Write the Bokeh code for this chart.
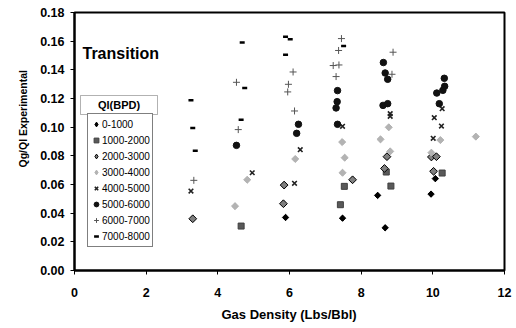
import math
from bokeh.plotting import figure
from bokeh.models import (Range1d, FixedTicker, PrintfTickFormatter, Legend, LegendItem,
                          Label, BoxAnnotation, Title)
from bokeh.embed import file_html
from bokeh.resources import INLINE

FONT = "Liberation Sans"

# ---- data ----
series_labels = ["0-1000", "1000-2000", "2000-3000", "3000-4000",
                 "4000-5000", "5000-6000", "6000-7000", "7000-8000"]

x_0_1000 = [5.89, 7.48, 8.46, 8.67, 9.95, 10.07]
y_0_1000 = [0.0370, 0.0365, 0.0524, 0.0298, 0.0533, 0.0641]

x_1000_2000 = [4.65, 7.42, 7.53, 8.70, 8.83, 10.26]
y_1000_2000 = [0.0310, 0.0459, 0.0587, 0.0687, 0.0589, 0.0680]

x_2000_3000 = [3.30, 5.83, 5.85, 7.76, 8.65, 8.72, 9.96, 10.02, 10.10]
y_2000_3000 = [0.0361, 0.0466, 0.0596, 0.0633, 0.0712, 0.0794, 0.0792, 0.0692, 0.0794]

x_3000_4000 = [4.48, 4.82, 6.16, 7.47, 7.48, 7.54, 8.54, 8.77, 8.81, 9.96, 10.21, 11.20]
y_3000_4000 = [0.0449, 0.0633, 0.0778, 0.0896, 0.0682, 0.0787, 0.0915, 0.0999, 0.0831,
               0.0822, 0.0910, 0.0934]

x_4000_5000 = [3.25, 4.96, 6.14, 6.30, 7.48, 8.81, 8.81, 10.01, 10.04, 10.24, 10.26]
y_4000_5000 = [0.0554, 0.0682, 0.0608, 0.0843, 0.1006, 0.1094, 0.1076, 0.0922, 0.1066,
               0.1008, 0.1129]

x_5000_6000 = [4.52, 6.20, 6.25, 7.30, 7.33, 7.34, 7.34, 8.61, 8.62, 8.67, 8.74, 8.74,
               10.11, 10.18, 10.28, 10.32, 10.33]
y_5000_6000 = [0.0873, 0.0957, 0.1020, 0.1134, 0.1178, 0.1020, 0.1255, 0.1152, 0.1451,
               0.1378, 0.1334, 0.1164, 0.1238, 0.1164, 0.1257, 0.1341, 0.1285]

x_6000_7000 = [3.33, 4.52, 4.57, 5.95, 5.97, 6.10, 6.14, 7.22, 7.30, 7.37, 7.38, 7.45,
               8.86, 8.89]
y_6000_7000 = [0.0629, 0.1313, 0.0983, 0.1246, 0.1299, 0.1385, 0.1113, 0.1430, 0.1353,
               0.1535, 0.1434, 0.1618, 0.1369, 0.1523]

x_7000_8000 = [3.25, 3.30, 3.37, 4.65, 4.68, 4.75, 5.89, 5.89, 6.02, 7.51]
y_7000_8000 = [0.1187, 0.0994, 0.0836, 0.1052, 0.1590, 0.1273, 0.1630, 0.1506, 0.1613, 0.1567]

x_ticks = [0, 2, 4, 6, 8, 10, 12]
y_ticks = [0.00, 0.02, 0.04, 0.06, 0.08, 0.10, 0.12, 0.14, 0.16, 0.18]

# ---- figure ----
p = figure(width=516, height=328, output_backend="svg", toolbar_location=None,
           x_range=Range1d(0, 12), y_range=Range1d(0, 0.18),
           min_border_left=74, min_border_right=12, min_border_top=12, min_border_bottom=58)
p.background_fill_color = "white"
p.border_fill_color = "white"
p.outline_line_color = "black"
p.outline_line_width = 2
p.xgrid.visible = False
p.ygrid.visible = False

for ax in (p.xaxis[0], p.yaxis[0]):
    ax.axis_line_color = "black"
    ax.axis_line_width = 2
    ax.major_tick_line_color = "black"
    ax.major_tick_line_width = 1
    ax.major_tick_out = 4
    ax.major_tick_in = 0
    ax.minor_tick_line_color = None
    ax.major_label_text_font = FONT
    ax.major_label_text_font_style = "bold"
    ax.major_label_text_font_size = "12.5px"
    ax.major_label_text_color = "black"

p.xaxis[0].ticker = FixedTicker(ticks=x_ticks)
p.yaxis[0].ticker = FixedTicker(ticks=y_ticks)
p.yaxis[0].formatter = PrintfTickFormatter(format="%.2f")
p.xaxis[0].major_label_standoff = 13
p.yaxis[0].major_label_standoff = 6

rot = math.pi / 4
s_0 = dict(fill_color="black", line_color="black")
s_2 = dict(fill_color="#808080", line_color="black", line_width=1)
s_3 = dict(fill_color="#b3b3b3", line_color="#b3b3b3")

# diamond-shaped swatches for the legend (legend glyphs ignore marker angle);
# drawn first and smaller, so the rotated squares on top hide them in the plot
k0 = p.scatter(x_0_1000, y_0_1000, marker="diamond", size=5.5, **s_0)
k2 = p.scatter(x_2000_3000, y_2000_3000, marker="diamond", size=6.5, **s_2)
k3 = p.scatter(x_3000_4000, y_3000_4000, marker="diamond", size=6, **s_3)

r0 = p.scatter(x_0_1000, y_0_1000, marker="square", angle=rot, size=4.5, **s_0)
r1 = p.scatter(x_1000_2000, y_1000_2000, marker="square", size=6,
               fill_color="#595959", line_color="#404040")
r2 = p.scatter(x_2000_3000, y_2000_3000, marker="square", angle=rot, size=5.5, **s_2)
r3 = p.scatter(x_3000_4000, y_3000_4000, marker="square", angle=rot, size=5, **s_3)
r4 = p.scatter(x_4000_5000, y_4000_5000, marker="x", size=6.5,
               line_color="#222222", line_width=1.6)
r5 = p.scatter(x_5000_6000, y_5000_6000, marker="circle", size=6.5,
               fill_color="#111111", line_color="#111111")
r6 = p.scatter(x_6000_7000, y_6000_7000, marker="cross", size=7,
               line_color="#555555", line_width=1)
r7 = p.scatter(x_7000_8000, y_7000_8000, marker="dash", size=5,
               line_color="black", line_width=2.5)

legend_renderers = [k0, r1, k2, k3, r4, r5, r6, r7]
legend = Legend(items=[LegendItem(label=lab, renderers=[r])
                       for lab, r in zip(series_labels, legend_renderers)],
                location=(13, 23), orientation="vertical",
                label_text_font=FONT, label_text_font_size="10px",
                label_text_color="black",
                glyph_width=12, glyph_height=16, label_height=16, label_standoff=0,
                spacing=0, padding=2, margin=0,
                border_line_color="black", border_line_width=1,
                background_fill_color="white", background_fill_alpha=1.0)
p.add_layout(legend)

# legend title in its own box
title_box = BoxAnnotation(left=6, right=83, top=175, bottom=156,
                          left_units="screen", right_units="screen",
                          top_units="screen", bottom_units="screen",
                          fill_color="white", fill_alpha=1.0,
                          line_color="black", line_width=1)
p.add_layout(title_box)
p.add_layout(Label(x=44.5, y=165.5, x_units="screen", y_units="screen", text="Ql(BPD)",
                   text_font=FONT, text_font_style="bold", text_font_size="11px",
                   text_align="center", text_baseline="middle", text_color="black"))

p.add_layout(Label(x=8, y=217.5, x_units="screen", y_units="screen", text="Transition",
                   text_font=FONT, text_font_style="bold", text_font_size="16px",
                   text_align="left", text_baseline="middle", text_color="black"))

# axis titles as side-panel titles (offset along the axis)
p.add_layout(Title(text="Qg/Ql Experimental", align="left", offset=103, standoff=17,
                   text_font=FONT, text_font_style="bold", text_font_size="10.5px",
                   text_color="black"), "left")
p.add_layout(Title(text="Gas Density (Lbs/Bbl)", align="left", offset=147,
                   text_font=FONT, text_font_style="bold", text_font_size="13px",
                   text_color="black"), "below")

open("out.html", "w").write(file_html(p, INLINE))
